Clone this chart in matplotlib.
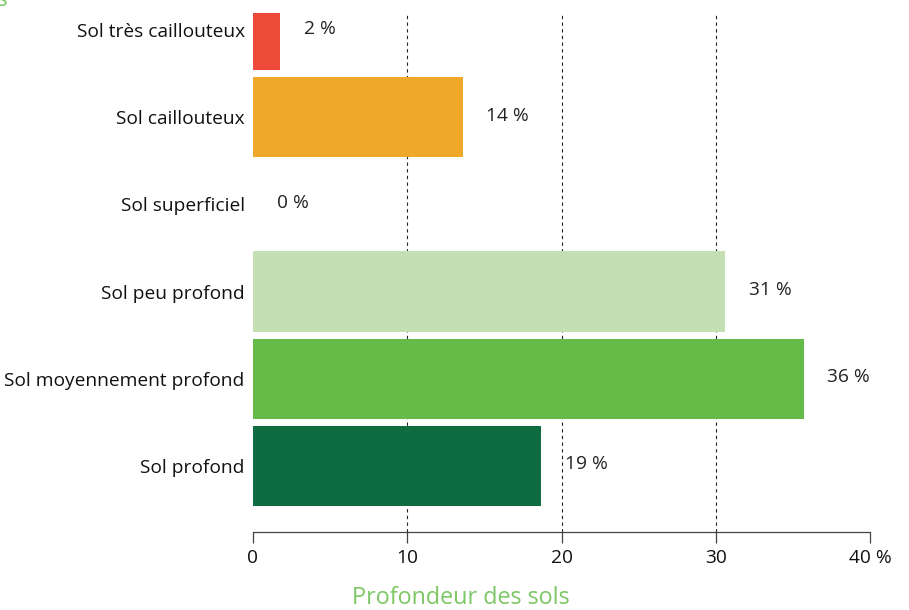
import matplotlib.pyplot as plt
import numpy as np

# donnees
categories = ["Sol très caillouteux", "Sol caillouteux", "Sol superficiel",
              "Sol peu profond", "Sol moyennement profond", "Sol profond"]
valeurs = [1.75, 13.6, 0.0, 30.6, 35.7, 18.7]
etiquettes = ["2 %", "14 %", "0 %", "31 %", "36 %", "19 %"]
couleurs = ["#ee4a3a", "#f0a828", "#ffffff", "#c4e0b3", "#64bb48", "#0f6b40"]
xticks = [0, 10, 20, 30, 40]
xticklabels = ["0", "10", "20", "30", "40 %"]

plt.rcParams['font.family'] = ['Open Sans', 'DejaVu Sans']
W, H = 909, 610
fig = plt.figure(figsize=(W / 100, H / 100), dpi=100)
ax = fig.add_axes([253 / W, 1 - 532 / H, (870 - 253) / W, (532 - 13) / H])

y = np.arange(len(categories))
ax.barh(y, valeurs, height=0.92, color=couleurs, zorder=2)

# lignes verticales en pointilles
for g in [10, 20, 30]:
    ax.axvline(g, color="#222222", lw=0.8, ls=(0, (3, 3)), zorder=1)

# etiquettes de valeurs
for yi, v, t in zip(y, valeurs, etiquettes):
    ax.annotate(t, (v, yi), xytext=(17, 1), textcoords="offset points",
                ha="left", va="center", fontsize=13.8, color="#222222")

ax.set_xlim(0, 40)
ax.set_ylim(5.759, -0.195)
ax.set_yticks(y)
ax.set_yticklabels(categories, fontsize=13.8, color="#111111")
ax.tick_params(axis="y", length=0, pad=6)
ax.set_xticks(xticks)
ax.set_xticklabels(xticklabels, fontsize=13.8, color="#111111")
ax.tick_params(axis="x", length=8, width=0.9, color="#444444", pad=4)
for s in ["top", "right", "left"]:
    ax.spines[s].set_visible(False)
ax.spines["bottom"].set_color("#444444")
ax.spines["bottom"].set_linewidth(0.9)

fig.text(461 / W, 1 - 598 / H, "Profondeur des sols", ha="center", va="center",
         fontsize=16.8, color="#7dc765")
# titre coupe en haut a gauche
fig.text(8 / W, 1.0, "s", ha="right", va="center", fontsize=16, color="#7dc765")

fig.savefig("out.png", dpi=100)
